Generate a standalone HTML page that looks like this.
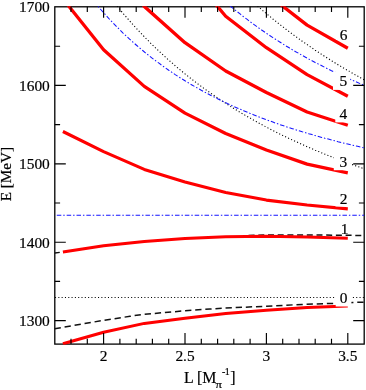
<!DOCTYPE html>
<html><head><meta charset="utf-8"><style>
html,body{margin:0;padding:0;background:#fff;}
body{width:366px;height:390px;overflow:hidden;}
svg{display:block;}
text{font-family:"Liberation Serif",serif;fill:#000;stroke:#000;stroke-width:0.2px;}
svg{will-change:transform;}
</style></head><body>
<svg width="366" height="390" viewBox="0 0 366 390">
<rect width="366" height="390" fill="#fff"/>
<defs><clipPath id="c"><rect x="54.2" y="6.2" width="310.6" height="338.5"/></clipPath></defs>

<rect x="54.8" y="6.8" width="309.4" height="337.3" stroke="#000" fill="none" stroke-width="1.3"/>
<g clip-path="url(#c)" fill="none">
<g stroke="#000" stroke-width="1.1" stroke-dasharray="1.1 2.2">
<path d="M54.8,297.4H364.2" stroke-width="1.05" stroke-dasharray="1.05 2.26" stroke-dashoffset="-0.2"/>
<polyline points="54.8,-90.9 58.0,-84.6 61.3,-78.5 64.5,-72.5 67.8,-66.7 71.0,-61.0 74.3,-55.5 77.6,-50.1 80.8,-44.8 84.1,-39.7 87.3,-34.7 90.6,-29.8 93.8,-25.0 97.1,-20.3 100.3,-15.8 103.6,-11.3 106.9,-7.0 110.1,-2.7 113.4,1.4 116.6,5.5 119.9,9.5 123.1,13.4 126.4,17.2 129.6,20.9 132.9,24.6 136.2,28.1 139.4,31.6 142.7,35.0 145.9,38.4 149.2,41.7 152.4,44.9 155.7,48.1 159.0,51.2 162.2,54.2 165.5,57.2 168.7,60.1 172.0,62.9 175.2,65.8 178.5,68.5 181.7,71.2 185.0,73.9 188.3,76.5 191.5,79.0 194.8,81.5 198.0,84.0 201.3,86.4 204.5,88.8 207.8,91.1 211.0,93.4 214.3,95.7 217.6,97.9 220.8,100.1 224.1,102.2 227.3,104.3 230.6,106.4 233.8,108.5 237.1,110.5 240.4,112.4 243.6,114.4 246.9,116.3 250.1,118.1 253.4,120.0 256.6,121.8 259.9,123.6 263.1,125.4 266.4,127.1 269.7,128.8 272.9,130.5 276.2,132.1 279.4,133.8 282.7,135.4 285.9,136.9 289.2,138.5 292.4,140.0 295.7,141.5 299.0,143.0 302.2,144.5 305.5,145.9 308.7,147.4 312.0,148.8 315.2,150.2 318.5,151.5 321.8,152.9 325.0,154.2 328.3,155.5 331.5,156.8 334.8,158.1 338.0,159.3 341.3,160.6 344.5,161.8 347.8,163.0 351.1,164.2 354.3,165.3 357.6,166.5 360.8,167.6 364.1,168.8"/>
<polyline points="54.8,-328.3 58.0,-318.4 61.3,-308.8 64.5,-299.5 67.8,-290.4 71.0,-281.5 74.3,-272.9 77.6,-264.4 80.8,-256.2 84.1,-248.2 87.3,-240.3 90.6,-232.7 93.8,-225.2 97.1,-217.9 100.3,-210.8 103.6,-203.8 106.9,-197.0 110.1,-190.3 113.4,-183.8 116.6,-177.5 119.9,-171.2 123.1,-165.1 126.4,-159.2 129.6,-153.3 132.9,-147.6 136.2,-142.0 139.4,-136.5 142.7,-131.2 145.9,-125.9 149.2,-120.8 152.4,-115.7 155.7,-110.8 159.0,-105.9 162.2,-101.1 165.5,-96.5 168.7,-91.9 172.0,-87.4 175.2,-83.0 178.5,-78.7 181.7,-74.4 185.0,-70.2 188.3,-66.1 191.5,-62.1 194.8,-58.2 198.0,-54.3 201.3,-50.5 204.5,-46.7 207.8,-43.1 211.0,-39.4 214.3,-35.9 217.6,-32.4 220.8,-29.0 224.1,-25.6 227.3,-22.3 230.6,-19.0 233.8,-15.8 237.1,-12.6 240.4,-9.5 243.6,-6.5 246.9,-3.5 250.1,-0.5 253.4,2.4 256.6,5.3 259.9,8.1 263.1,10.9 266.4,13.6 269.7,16.3 272.9,19.0 276.2,21.6 279.4,24.2 282.7,26.7 285.9,29.2 289.2,31.7 292.4,34.1 295.7,36.5 299.0,38.9 302.2,41.2 305.5,43.5 308.7,45.7 312.0,48.0 315.2,50.2 318.5,52.3 321.8,54.5 325.0,56.6 328.3,58.6 331.5,60.7 334.8,62.7 338.0,64.7 341.3,66.7 344.5,68.6 347.8,70.5 351.1,72.4 354.3,74.3 357.6,76.1 360.8,77.9 364.1,79.7"/>
</g>
<g stroke="#1414ff" stroke-width="1.05" stroke-dasharray="4.5 1.95 1.45 1.95">
<path d="M54.8,215.2H364.2" stroke-dashoffset="-2"/>
<polyline points="54.8,-55.5 58.0,-50.0 61.3,-44.6 64.5,-39.4 67.8,-34.3 71.0,-29.4 74.3,-24.7 77.6,-20.0 80.8,-15.5 84.1,-11.1 87.3,-6.9 90.6,-2.7 93.8,1.3 97.1,5.2 100.3,9.0 103.6,12.7 106.9,16.3 110.1,19.9 113.4,23.3 116.6,26.6 119.9,29.9 123.1,33.1 126.4,36.1 129.6,39.2 132.9,42.1 136.2,45.0 139.4,47.8 142.7,50.5 145.9,53.2 149.2,55.8 152.4,58.3 155.7,60.8 159.0,63.2 162.2,65.6 165.5,67.9 168.7,70.2 172.0,72.4 175.2,74.6 178.5,76.7 181.7,78.8 185.0,80.8 188.3,82.8 191.5,84.7 194.8,86.6 198.0,88.4 201.3,90.3 204.5,92.0 207.8,93.8 211.0,95.5 214.3,97.1 217.6,98.8 220.8,100.4 224.1,101.9 227.3,103.5 230.6,105.0 233.8,106.5 237.1,107.9 240.4,109.3 243.6,110.7 246.9,112.1 250.1,113.4 253.4,114.7 256.6,116.0 259.9,117.3 263.1,118.5 266.4,119.7 269.7,120.9 272.9,122.1 276.2,123.3 279.4,124.4 282.7,125.5 285.9,126.6 289.2,127.7 292.4,128.7 295.7,129.7 299.0,130.8 302.2,131.8 305.5,132.7 308.7,133.7 312.0,134.6 315.2,135.6 318.5,136.5 321.8,137.4 325.0,138.3 328.3,139.1 331.5,140.0 334.8,140.8 338.0,141.7 341.3,142.5 344.5,143.3 347.8,144.0 351.1,144.8 354.3,145.6 357.6,146.3 360.8,147.1 364.1,147.8"/>
<polyline points="54.8,-274.6 58.0,-265.2 61.3,-256.1 64.5,-247.2 67.8,-238.6 71.0,-230.2 74.3,-222.0 77.6,-214.0 80.8,-206.3 84.1,-198.8 87.3,-191.4 90.6,-184.3 93.8,-177.3 97.1,-170.5 100.3,-163.9 103.6,-157.5 106.9,-151.2 110.1,-145.1 113.4,-139.1 116.6,-133.2 119.9,-127.5 123.1,-122.0 126.4,-116.6 129.6,-111.3 132.9,-106.1 136.2,-101.0 139.4,-96.1 142.7,-91.3 145.9,-86.6 149.2,-81.9 152.4,-77.4 155.7,-73.0 159.0,-68.7 162.2,-64.5 165.5,-60.4 168.7,-56.3 172.0,-52.4 175.2,-48.5 178.5,-44.7 181.7,-41.0 185.0,-37.4 188.3,-33.9 191.5,-30.4 194.8,-27.0 198.0,-23.6 201.3,-20.4 204.5,-17.2 207.8,-14.0 211.0,-10.9 214.3,-7.9 217.6,-5.0 220.8,-2.1 224.1,0.8 227.3,3.6 230.6,6.3 233.8,9.0 237.1,11.6 240.4,14.2 243.6,16.8 246.9,19.2 250.1,21.7 253.4,24.1 256.6,26.4 259.9,28.8 263.1,31.0 266.4,33.3 269.7,35.5 272.9,37.6 276.2,39.7 279.4,41.8 282.7,43.8 285.9,45.9 289.2,47.8 292.4,49.8 295.7,51.7 299.0,53.5 302.2,55.4 305.5,57.2 308.7,59.0 312.0,60.7 315.2,62.5 318.5,64.1 321.8,65.8 325.0,67.5 328.3,69.1 331.5,70.7 334.8,72.2 338.0,73.8 341.3,75.3 344.5,76.8 347.8,78.2 351.1,79.7 354.3,81.1 357.6,82.5 360.8,83.9 364.1,85.2"/>
</g>
<g stroke="#111" stroke-width="1.5" stroke-dasharray="6 3.7">
<polyline points="54.6,328.8 103.6,320.3 130.0,316.3 142.0,314.5 185.0,310.8 210.0,309.0 222.0,308.2 266.4,306.2 302.0,304.4 336.0,303.3 355.0,302.4 364.0,302.2" stroke-dasharray="6.3 3.84"/>
<path d="M54.8,253.1L62.9,251.9" stroke-dashoffset="1"/>
<polyline points="248.6,235.6 266.0,234.9 307.0,234.9 364.2,235.5"/>
</g>
<g stroke="#ff0000" stroke-width="3.3" stroke-linejoin="round">
<polyline points="62.9,343.8 103.6,332.3 144.3,323.4 185.0,318.3 225.7,313.5 266.4,310.2 307.1,307.4 347.8,305.9" stroke-width="3"/>
<polyline points="62.9,252.1 103.6,245.8 144.3,241.5 185.0,238.4 225.7,236.7 266.4,236.2 307.1,236.9 347.8,238.2" stroke-width="3"/>
<polyline points="62.9,131.5 103.6,151.6 144.3,169.4 185.0,182.0 225.7,192.6 266.4,200.1 307.1,205.0 347.8,208.9" stroke-width="3.1"/>
<polyline points="62.9,-1.2 103.6,49.7 144.3,86.4 185.0,113.1 225.7,133.5 266.4,150.0 307.1,164.1 347.8,172.9" stroke-width="3.25"/>
<polyline points="103.6,-40.0 144.3,6.4 185.0,42.7 225.7,71.0 266.4,92.5 307.1,112.0 347.8,125.2" stroke-width="3.3"/>
<polyline points="185.0,-31.9 225.7,16.2 266.4,47.7 307.1,74.6 347.8,96.2" stroke-width="3.3"/>
<polyline points="266.4,-6.5 307.1,25.1 347.8,48.2" stroke-width="3.3"/>
</g>
</g>
<rect x="335.7" y="289.3" width="15.7" height="17.2" fill="#fff"/>
<rect x="336" y="220" width="15" height="13.6" fill="#fff"/>
<rect x="335.5" y="190.5" width="15.5" height="16" fill="#fff"/>
<rect x="333.8" y="153" width="16.4" height="17.2" fill="#fff"/>
<rect x="335.3" y="105.7" width="15.7" height="16.7" fill="#fff"/>
<rect x="333" y="71.8" width="17.2" height="18.1" fill="#fff"/>
<rect x="336" y="26" width="15" height="14" fill="#fff"/>
<text x="343.6" y="303.2" font-size="15.4" text-anchor="middle">0</text>
<text x="344.5" y="233.5" font-size="15.4" text-anchor="middle">1</text>
<text x="343.6" y="203.8" font-size="15.4" text-anchor="middle">2</text>
<text x="343.4" y="167.2" font-size="15.4" text-anchor="middle">3</text>
<text x="343.3" y="119.2" font-size="15.4" text-anchor="middle">4</text>
<text x="343.4" y="85.9" font-size="15.4" text-anchor="middle">5</text>
<text x="343.7" y="40" font-size="15.4" text-anchor="middle">6</text>
<g stroke="#000" fill="none">
<path d="M71.0,344.1v-5.3M71.0,6.8v5.3M87.3,344.1v-5.3M87.3,6.8v5.3M103.6,344.1v-11M103.6,6.8v11M119.9,344.1v-5.3M119.9,6.8v5.3M136.2,344.1v-5.3M136.2,6.8v5.3M152.4,344.1v-5.3M152.4,6.8v5.3M168.7,344.1v-5.3M168.7,6.8v5.3M185.0,344.1v-11M185.0,6.8v11M201.3,344.1v-5.3M201.3,6.8v5.3M217.6,344.1v-5.3M217.6,6.8v5.3M233.8,344.1v-5.3M233.8,6.8v5.3M250.1,344.1v-5.3M250.1,6.8v5.3M266.4,344.1v-11M266.4,6.8v11M282.7,344.1v-5.3M282.7,6.8v5.3M299.0,344.1v-5.3M299.0,6.8v5.3M315.2,344.1v-5.3M315.2,6.8v5.3M331.5,344.1v-5.3M331.5,6.8v5.3M347.8,344.1v-11M347.8,6.8v11M54.8,320.6h11M364.2,320.6h-11M54.8,281.4h5.3M364.2,281.4h-5.3M54.8,242.2h11M364.2,242.2h-11M54.8,203.0h5.3M364.2,203.0h-5.3M54.8,163.8h11M364.2,163.8h-11M54.8,124.6h5.3M364.2,124.6h-5.3M54.8,85.4h11M364.2,85.4h-11M54.8,46.2h5.3M364.2,46.2h-5.3" stroke-width="1.15"/>
</g>
<text x="49.8" y="325.9" font-size="15.4" text-anchor="end">1300</text>
<text x="49.8" y="247.5" font-size="15.4" text-anchor="end">1400</text>
<text x="49.8" y="169.1" font-size="15.4" text-anchor="end">1500</text>
<text x="49.8" y="90.7" font-size="15.4" text-anchor="end">1600</text>
<text x="49.8" y="12.3" font-size="15.4" text-anchor="end">1700</text>
<text x="103.6" y="360.5" font-size="15.4" text-anchor="middle">2</text>
<text x="185.0" y="360.5" font-size="15.4" text-anchor="middle">2.5</text>
<text x="266.4" y="360.5" font-size="15.4" text-anchor="middle">3</text>
<text x="347.8" y="360.5" font-size="15.4" text-anchor="middle">3.5</text>
<text transform="translate(11.3,201.3) rotate(-90)" font-size="15.2">E [MeV]</text>
<text x="183.9" y="383.0" font-size="15.9">L [M</text>
<text transform="translate(215.4,388.2) scale(1.22,1)" font-size="10.5">π</text>
<text x="222.0" y="375.4" font-size="10" letter-spacing="-0.6">-1</text>
<text x="230.3" y="383.0" font-size="15.9">]</text>
</svg></body></html>
